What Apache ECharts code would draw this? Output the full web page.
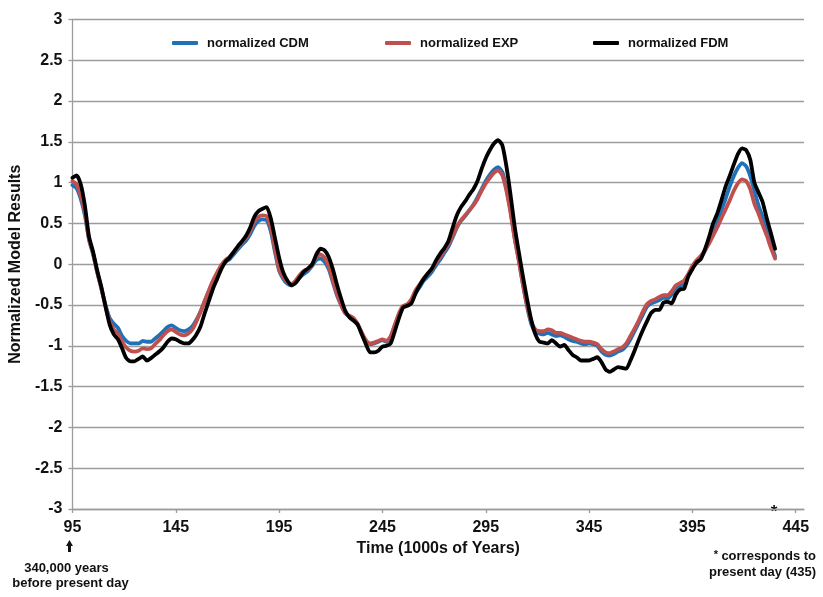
<!DOCTYPE html>
<html>
<head>
<meta charset="utf-8">
<title>Normalized Model Results</title>
<script src="https://cdn.jsdelivr.net/npm/echarts@6/dist/echarts.min.js"></script>
<style>
  html, body { margin: 0; padding: 0; background: #ffffff; }
  #chart { width: 823px; height: 597px; }
</style>
</head>
<body>
<div id="chart"></div>
<script>
// Time axis, in thousands of years (435 = present day)
const years = [
  95, 97, 99, 101, 103, 105, 107, 109, 111, 113,
  115, 117, 119, 121, 123, 125, 127, 129, 131, 133,
  135, 137, 139, 141, 143, 145, 147, 149, 151, 153,
  155, 157, 159, 161, 163, 165, 167, 169, 171, 173,
  175, 177, 179, 181, 183, 185, 187, 189, 191, 193,
  195, 197, 199, 201, 203, 205, 207, 209, 211, 213,
  215, 217, 219, 221, 223, 225, 227, 229, 231, 233,
  235, 237, 239, 241, 243, 245, 247, 249, 251, 253,
  255, 257, 259, 261, 263, 265, 267, 269, 271, 273,
  275, 277, 279, 281, 283, 285, 287, 289, 291, 293,
  295, 297, 299, 301, 303, 305, 307, 309, 311, 313,
  315, 317, 319, 321, 323, 325, 327, 329, 331, 333,
  335, 337, 339, 341, 343, 345, 347, 349, 351, 353,
  355, 357, 359, 361, 363, 365, 367, 369, 371, 373,
  375, 377, 379, 381, 383, 385, 387, 389, 391, 393,
  395, 397, 399, 401, 403, 405, 407, 409, 411, 413,
  415, 417, 419, 421, 423, 425, 427, 429, 431, 433,
  435
];

const cdm = [
  0.97, 0.93, 0.8, 0.6, 0.3, 0.12, -0.1, -0.3, -0.5, -0.66,
  -0.73, -0.78, -0.88, -0.94, -0.97, -0.97, -0.97, -0.94, -0.95, -0.95,
  -0.91, -0.87, -0.82, -0.77, -0.75, -0.78, -0.81, -0.82, -0.8, -0.76,
  -0.68, -0.58, -0.45, -0.33, -0.22, -0.12, -0.03, 0.03, 0.06, 0.12,
  0.18, 0.24, 0.29, 0.37, 0.47, 0.53, 0.55, 0.54, 0.4, 0.15,
  -0.08, -0.18, -0.24, -0.26, -0.22, -0.16, -0.12, -0.08, -0.02, 0.05,
  0.07, 0.03, -0.06, -0.22, -0.38, -0.5, -0.6, -0.64, -0.67, -0.74,
  -0.84, -0.94, -0.98, -0.97, -0.95, -0.93, -0.95, -0.9, -0.75, -0.62,
  -0.52, -0.5, -0.45, -0.35, -0.28, -0.2, -0.15, -0.09, -0.01, 0.06,
  0.14, 0.22, 0.33, 0.45, 0.53, 0.59, 0.66, 0.73, 0.82, 0.92,
  1.02, 1.1, 1.16, 1.19, 1.13, 0.93, 0.65, 0.32, 0.05, -0.25,
  -0.52, -0.73, -0.83, -0.85, -0.86, -0.84, -0.86, -0.88, -0.87, -0.89,
  -0.92, -0.94, -0.95, -0.97, -0.98, -0.97, -0.98, -1.0, -1.07, -1.11,
  -1.12, -1.1, -1.07, -1.05, -1.0, -0.92, -0.82, -0.72, -0.62, -0.52,
  -0.48, -0.46, -0.44, -0.41, -0.42, -0.37, -0.3, -0.27, -0.24, -0.14,
  -0.04, 0.02, 0.08, 0.16, 0.28, 0.4, 0.52, 0.66, 0.8, 0.95,
  1.08, 1.18, 1.24, 1.2, 1.08, 0.9, 0.72, 0.58, 0.42, 0.25,
  0.1
];

const exp = [
  1.02, 0.98, 0.84, 0.64, 0.31, 0.13, -0.1, -0.3, -0.52, -0.7,
  -0.8, -0.85, -0.95, -1.02, -1.06, -1.07, -1.06, -1.03, -1.04, -1.03,
  -0.98, -0.93, -0.87, -0.82, -0.8, -0.83, -0.86, -0.87, -0.85, -0.8,
  -0.7, -0.58, -0.45, -0.32, -0.2, -0.1, -0.01, 0.05, 0.09, 0.15,
  0.21, 0.27, 0.32, 0.41, 0.52, 0.58, 0.6, 0.59, 0.45, 0.18,
  -0.06, -0.16, -0.22, -0.24, -0.2, -0.13, -0.08, -0.06, 0.0, 0.09,
  0.12, 0.08, -0.02, -0.2, -0.36, -0.5, -0.6, -0.63, -0.66, -0.73,
  -0.84, -0.93, -0.97, -0.96, -0.94, -0.92, -0.94, -0.88, -0.74, -0.6,
  -0.51, -0.49, -0.43, -0.32, -0.25, -0.17, -0.12, -0.06, 0.02, 0.09,
  0.17, 0.25, 0.35, 0.46, 0.54, 0.6, 0.66, 0.72, 0.8, 0.9,
  0.99, 1.06, 1.12, 1.15, 1.09, 0.9, 0.63, 0.31, 0.04, -0.25,
  -0.5, -0.7, -0.8, -0.82, -0.82, -0.8, -0.81, -0.84, -0.84, -0.86,
  -0.88, -0.9, -0.92, -0.94, -0.95, -0.95, -0.96, -0.98, -1.04, -1.08,
  -1.09, -1.07, -1.04, -1.02, -0.97, -0.88, -0.79, -0.69, -0.58, -0.49,
  -0.45, -0.43, -0.4, -0.38, -0.38, -0.33, -0.26, -0.23, -0.2, -0.12,
  -0.02, 0.05, 0.1, 0.17, 0.25, 0.35, 0.45, 0.56, 0.67, 0.78,
  0.9, 0.99, 1.04, 1.02, 0.92, 0.74, 0.62, 0.48, 0.35, 0.2,
  0.07
];

const fdm = [
  1.06, 1.09, 0.98, 0.72, 0.34, 0.15, -0.08, -0.28, -0.52, -0.74,
  -0.86, -0.92, -1.03, -1.15, -1.19, -1.19, -1.16, -1.13, -1.18, -1.15,
  -1.11, -1.07, -1.02, -0.95, -0.91, -0.92, -0.95, -0.97, -0.97, -0.93,
  -0.86, -0.76, -0.6, -0.45, -0.3, -0.18, -0.06, 0.03, 0.08, 0.15,
  0.22, 0.28, 0.35, 0.45, 0.58, 0.65, 0.68, 0.7, 0.56, 0.32,
  0.08, -0.1, -0.2, -0.26, -0.23, -0.16, -0.09, -0.05, 0.0, 0.12,
  0.19, 0.17, 0.09, -0.06, -0.25, -0.42, -0.57, -0.65, -0.69, -0.74,
  -0.86, -0.98, -1.08, -1.08, -1.06, -1.01, -1.0, -0.97, -0.82, -0.66,
  -0.53, -0.51, -0.48, -0.36, -0.26, -0.18, -0.11, -0.05, 0.05, 0.13,
  0.2, 0.29, 0.45, 0.6, 0.7, 0.77, 0.85, 0.92, 1.02, 1.17,
  1.3, 1.4, 1.48, 1.52, 1.46, 1.2, 0.85, 0.46, 0.15, -0.15,
  -0.43, -0.68, -0.86, -0.95, -0.96, -0.97, -0.93, -0.97, -1.01, -0.99,
  -1.05, -1.11, -1.14, -1.18, -1.18, -1.18, -1.16, -1.14, -1.2, -1.29,
  -1.32, -1.29, -1.26, -1.27, -1.28, -1.18, -1.06, -0.93, -0.81, -0.7,
  -0.6, -0.56, -0.56, -0.47, -0.46, -0.48, -0.37, -0.31, -0.3, -0.15,
  -0.06, 0.02, 0.06, 0.18, 0.33, 0.5, 0.62, 0.78, 0.95, 1.08,
  1.22, 1.35, 1.42, 1.4, 1.28, 1.0, 0.88, 0.76, 0.56, 0.38,
  0.19
];

// Labelled positions on the time axis
const timeTicks = [95, 145, 195, 245, 295, 345, 395, 445];
const startYear = 95;
const presentYear = 435;

const seriesNames = ['normalized CDM', 'normalized EXP', 'normalized FDM'];
const seriesColors = ['#1f72b8', '#c0504d', '#000000'];
const seriesValues = [cdm, exp, fdm];

const FONT = '"Liberation Sans", Arial, Helvetica, sans-serif';
const TEXT = '#111111';
const AXIS_GREY = '#9c9c9c';

const chart = echarts.init(document.getElementById('chart'), null, { renderer: 'canvas' });

function pairs(values) {
  return years.map((y, i) => [y, values[i]]);
}

const legendLefts = [172, 385, 593];

const option = {
  animation: false,
  backgroundColor: '#ffffff',
  textStyle: { fontFamily: FONT },
  grid: { left: 69, right: 19, top: 19.5, bottom: 88 },
  legend: seriesNames.map((name, i) => ({
    data: [name],
    left: legendLefts[i],
    top: 35,
    padding: 0,
    icon: 'roundRect',
    itemWidth: 26,
    itemHeight: 4,
    selectedMode: false,
    textStyle: {
      fontFamily: FONT, fontSize: 13, fontWeight: 'bold', color: TEXT,
      lineHeight: 16, padding: [0, 0, 0, 4]
    }
  })),
  xAxis: {
    type: 'value',
    min: 95,
    max: 449,
    name: 'Time (1000s of Years)',
    nameLocation: 'middle',
    nameGap: 32,
    nameTextStyle: { fontFamily: FONT, fontSize: 16, fontWeight: 'bold', color: TEXT },
    axisLine: { show: true, onZero: false, lineStyle: { color: AXIS_GREY, width: 1.3 } },
    axisTick: { show: true, customValues: timeTicks, length: 4, lineStyle: { color: AXIS_GREY, width: 1.3 } },
    axisLabel: { customValues: timeTicks, margin: 11, fontFamily: FONT, fontSize: 16, fontWeight: 'bold', color: TEXT },
    splitLine: { show: false }
  },
  yAxis: {
    type: 'value',
    min: -3,
    max: 3,
    interval: 0.5,
    name: 'Normalized Model Results',
    nameLocation: 'middle',
    nameGap: 40,
    nameRotate: 90,
    nameTextStyle: { fontFamily: FONT, fontSize: 16, fontWeight: 'bold', color: TEXT },
    axisLine: { show: true, lineStyle: { color: AXIS_GREY, width: 1.3 } },
    axisTick: { show: true, length: 4, lineStyle: { color: AXIS_GREY, width: 1.3 } },
    axisLabel: { margin: 10, fontFamily: FONT, fontSize: 16, fontWeight: 'bold', color: TEXT },
    splitLine: { show: true, lineStyle: { color: AXIS_GREY, width: 1.3 } }
  },
  series: seriesNames.map((name, i) => ({
    name: name,
    type: 'line',
    data: pairs(seriesValues[i]),
    showSymbol: false,
    symbol: 'none',
    smooth: 0.2,
    color: seriesColors[i],
    lineStyle: { color: seriesColors[i], width: 3.8, cap: 'round', join: 'round' },
    z: 2 + i
  }))
};

chart.setOption(option);

// Notes under the time axis, placed from the axis scale
const p0 = chart.convertToPixel({ xAxisIndex: 0, yAxisIndex: 0 }, [startYear, -3]);
const pNow = chart.convertToPixel({ xAxisIndex: 0, yAxisIndex: 0 }, [presentYear, -3]);
const ax = p0[0] - 3;
const noteStyle = { fontFamily: FONT, fontSize: 13, fontWeight: 'bold', fill: TEXT };

chart.setOption({
  graphic: [
    {
      type: 'polygon',
      shape: { points: [[ax - 3.5, p0[1] + 37], [ax, p0[1] + 31], [ax + 3.5, p0[1] + 37]] },
      style: { fill: TEXT }
    },
    {
      type: 'rect',
      shape: { x: ax - 1.5, y: p0[1] + 36, width: 3, height: 7 },
      style: { fill: TEXT }
    },
    {
      type: 'text', x: ax - 3, y: p0[1] + 59,
      style: Object.assign({ text: '340,000 years', align: 'center', verticalAlign: 'middle' }, noteStyle)
    },
    {
      type: 'text', x: ax + 1, y: p0[1] + 74,
      style: Object.assign({ text: 'before present day', align: 'center', verticalAlign: 'middle' }, noteStyle)
    },
    {
      type: 'text', x: pNow[0] - 1, y: pNow[1] + 3,
      style: { text: '*', align: 'center', verticalAlign: 'middle', fontFamily: FONT, fontSize: 17, fontWeight: 'bold', fill: TEXT }
    },
    {
      type: 'text', x: 716, y: 555,
      style: { text: '*', align: 'center', verticalAlign: 'middle', fontFamily: FONT, fontSize: 11, fontWeight: 'bold', fill: TEXT }
    },
    {
      type: 'text', x: 816, y: 556,
      style: Object.assign({ text: 'corresponds to', align: 'right', verticalAlign: 'middle' }, noteStyle)
    },
    {
      type: 'text', x: 816, y: 572,
      style: Object.assign({ text: 'present day (435)', align: 'right', verticalAlign: 'middle' }, noteStyle)
    }
  ]
});
</script>
</body>
</html>
